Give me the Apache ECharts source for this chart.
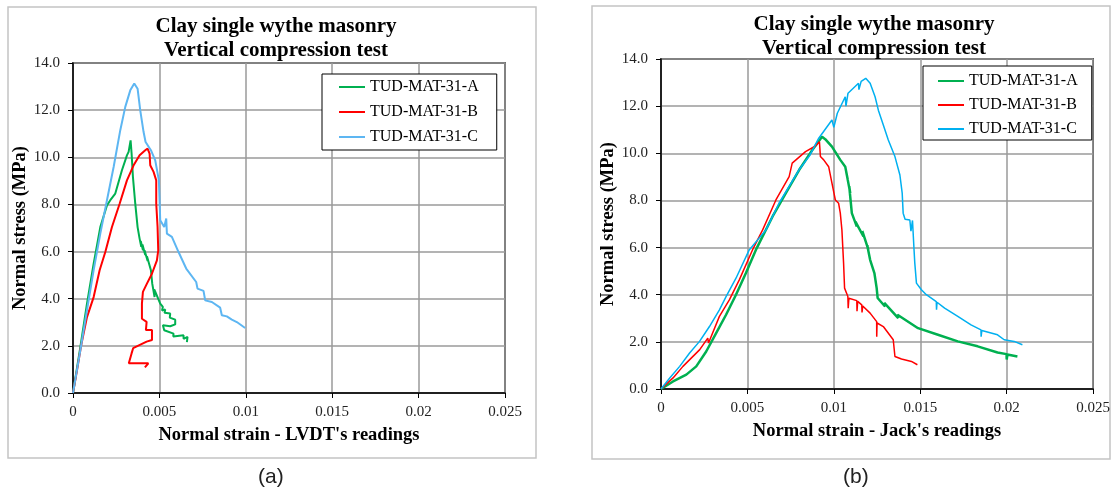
<!DOCTYPE html>
<html>
<head>
<meta charset="utf-8">
<script src="https://cdn.jsdelivr.net/npm/echarts@6/dist/echarts.min.js"></script>
<style>
  html, body { margin: 0; padding: 0; background: #fff; }
  #chart { width: 1113px; height: 491px; }
</style>
</head>
<body>
<div id="chart"></div>
<script>
// stress-strain curves [strain, stress MPa]
const seriesNames = ['TUD-MAT-31-A', 'TUD-MAT-31-B', 'TUD-MAT-31-C']

// (a) LVDT readings
const lvdtA = [
  [0, 0], [0.000424, 1.95], [0.000809, 3.79], [0.001195, 5.49], [0.00158, 7.04], [0.001965, 7.96],
  [0.002158, 8.18], [0.002447, 8.46], [0.002832, 9.45], [0.003121, 10.08], [0.003218, 10.23],
  [0.003333, 10.72], [0.003391, 10.16], [0.003468, 9.17], [0.003603, 8.03], [0.003738, 7.04],
  [0.003854, 6.55], [0.00395, 6.2], [0.00392, 6.45], [0.00405, 6.05], [0.00402, 6.3], [0.00418, 5.85],
  [0.00414, 6.05], [0.00432, 5.6], [0.00428, 5.8], [0.004509, 5.21], [0.004586, 4.64], [0.004721, 4.07],
  [0.0047, 4.4], [0.004759, 4.3], [0.005048, 3.79], [0.0052, 3.65], [0.00515, 3.5], [0.005337, 3.54],
  [0.0053, 3.4], [0.005626, 3.37], [0.0056, 3.2], [0.005915, 3.11], [0.005915, 2.91], [0.005626, 2.83],
  [0.005202, 2.87], [0.00528, 2.66], [0.005819, 2.52], [0.0058, 2.4], [0.006397, 2.45], [0.0064, 2.3],
  [0.006628, 2.38], [0.00659, 2.16]
]
const lvdtB = [
  [0, 0], [0.000231, 0.96], [0.000462, 1.98], [0.000809, 3.22], [0.001195, 4.07], [0.001541, 5.21],
  [0.001869, 5.98], [0.002254, 7.04], [0.002698, 8.03], [0.003121, 9.02], [0.003507, 9.66],
  [0.003854, 10.09], [0.004181, 10.3], [0.004316, 10.37], [0.004432, 10.16], [0.00447, 9.66],
  [0.004663, 9.38], [0.004817, 9.02], [0.004817, 8.03], [0.004894, 7.04], [0.004933, 6.05],
  [0.004856, 5.63], [0.004567, 5.06], [0.004278, 4.64], [0.004046, 4.29], [0.003989, 3.79],
  [0.003989, 3.15], [0.00426, 3.02], [0.00422, 2.67], [0.00457, 2.67], [0.00457, 2.25], [0.00426, 2.18],
  [0.00348, 1.9], [0.00339, 1.68], [0.00323, 1.26], [0.00436, 1.26], [0.00416, 1.09]
]
const lvdtC = [
  [0, 0], [0.000424, 1.81], [0.000809, 3.51], [0.001195, 5.21], [0.00158, 6.76], [0.001965, 8.18],
  [0.002351, 9.59], [0.002736, 11.15], [0.003025, 12.14], [0.003314, 12.84], [0.003545, 13.13],
  [0.003738, 12.91], [0.003892, 11.99], [0.004085, 11.07], [0.0042, 10.65], [0.004509, 10.3],
  [0.004759, 9.87], [0.004971, 9.02], [0.005048, 7.33], [0.00528, 7.04], [0.005395, 7.4],
  [0.005434, 6.76], [0.005723, 6.62], [0.006108, 5.98], [0.006551, 5.28], [0.007129, 4.71],
  [0.007206, 4.43], [0.007553, 4.33], [0.00765, 3.93], [0.008035, 3.86], [0.008516, 3.62],
  [0.008613, 3.3], [0.008902, 3.25], [0.009191, 3.11], [0.00948, 3.01], [0.009962, 2.76]
]

// (b) Jack readings
const jackA = [
  [0, 0], [0.000697, 0.32], [0.001465, 0.61], [0.00204, 0.96], [0.002615, 1.59], [0.00319, 2.37],
  [0.003764, 3.15], [0.004339, 4.0], [0.004914, 4.92], [0.005488, 5.9], [0.006456, 7.32],
  [0.007222, 8.31], [0.007989, 9.29], [0.008755, 10.14], [0.009317, 10.7], [0.0095, 10.6],
  [0.00989, 10.28], [0.010373, 9.72], [0.01066, 9.43], [0.0108, 8.9], [0.01072, 9.2], [0.010948, 8.31],
  [0.01089, 8.6], [0.01104, 7.46], [0.011328, 6.89], [0.01125, 7.1], [0.011712, 6.47], [0.01165, 6.7],
  [0.012, 5.9], [0.01193, 6.1], [0.012098, 5.48], [0.012345, 4.92], [0.012477, 4.28], [0.012534, 3.86],
  [0.01296, 3.5], [0.01292, 3.65], [0.013724, 3.01], [0.01368, 3.15], [0.014873, 2.58], [0.016022, 2.3],
  [0.017171, 2.02], [0.01832, 1.81], [0.01947, 1.55], [0.01999, 1.48], [0.02, 1.25], [0.02004, 1.46],
  [0.02062, 1.38]
]
const jackB = [
  [0, 0], [0.000697, 0.47], [0.00127, 0.96], [0.002241, 1.67], [0.002707, 2.16], [0.00275, 1.95],
  [0.003379, 3.08], [0.003954, 3.78], [0.004529, 4.63], [0.005293, 5.9], [0.005881, 6.75],
  [0.006648, 8.02], [0.007414, 9.01], [0.00759, 9.58], [0.00836, 10.07], [0.008937, 10.31],
  [0.009166, 10.49], [0.009223, 9.86], [0.009413, 9.72], [0.0097, 9.43], [0.00989, 8.73],
  [0.010086, 8.02], [0.010276, 7.88], [0.010373, 7.46], [0.010466, 6.75], [0.010563, 5.34],
  [0.01062, 4.28], [0.01081, 3.92], [0.01083, 3.43], [0.01087, 3.85], [0.011328, 3.75],
  [0.01134, 3.3], [0.01138, 3.72], [0.011615, 3.57], [0.01163, 3.25], [0.01167, 3.52],
  [0.012098, 3.22], [0.012477, 2.86], [0.01248, 2.22], [0.0125, 2.8], [0.012862, 2.65],
  [0.013436, 2.09], [0.013534, 1.38], [0.013913, 1.27], [0.014488, 1.17], [0.014833, 1.03]
]
const jackC = [
  [0, 0], [0.000506, 0.47], [0.00108, 0.96], [0.001655, 1.53], [0.00223, 2.02], [0.002804, 2.65],
  [0.003379, 3.36], [0.003764, 3.92], [0.004339, 4.7], [0.005103, 5.9], [0.006073, 6.75],
  [0.006827, 7.88], [0.007977, 9.29], [0.008602, 9.9], [0.009126, 10.64], [0.00989, 11.41],
  [0.01, 11.1], [0.0102, 11.7], [0.01066, 12.4], [0.0107, 12.0], [0.01082, 12.55], [0.011425, 12.97],
  [0.01145, 12.7], [0.01158, 13.05], [0.011845, 13.18], [0.0121, 12.97], [0.012385, 12.4],
  [0.012575, 11.83], [0.012862, 11.2], [0.01315, 10.56], [0.013534, 9.86], [0.013821, 9.08],
  [0.013954, 8.31], [0.01401, 7.46], [0.01412, 7.2], [0.014396, 7.17], [0.01446, 6.7],
  [0.01455, 7.15], [0.01464, 5.9], [0.014683, 5.34], [0.014778, 4.49], [0.015064, 4.21],
  [0.01535, 4.0], [0.015925, 3.71], [0.01594, 3.36], [0.01597, 3.68], [0.016408, 3.43],
  [0.017171, 3.08], [0.017936, 2.72], [0.018511, 2.51], [0.01852, 2.22], [0.01856, 2.48],
  [0.01947, 2.3], [0.019855, 2.09], [0.02043, 2.02], [0.020908, 1.88]
]

const serif = "'Liberation Serif', 'Times New Roman', serif"
const leftColors = ['#00B050', '#FF0000', '#5DB6F2']
const rightColors = ['#00B050', '#FF0000', '#00B0F0']

const chart = echarts.init(document.getElementById('chart'))

function xAxisOf(gridIndex, name) {
  return {
    gridIndex: gridIndex,
    type: 'value',
    min: 0,
    max: 0.025,
    interval: 0.005,
    name: name,
    nameLocation: 'middle',
    nameGap: 33,
    nameTextStyle: { fontFamily: serif, fontWeight: 'bold', fontSize: 18.5, color: '#000' },
    axisLine: { lineStyle: { color: '#000', width: 1.5 } },
    axisTick: { show: true, inside: false, length: 5, lineStyle: { color: '#000' } },
    axisLabel: {
      fontFamily: serif, fontSize: 15, color: '#222', margin: 12,
      formatter: v => String(+v.toFixed(3))
    },
    splitLine: { show: true, lineStyle: { color: '#9a9a9a', width: 1.5 } }
  }
}

function yAxisOf(gridIndex) {
  return {
    gridIndex: gridIndex,
    type: 'value',
    min: 0,
    max: 14,
    interval: 2,
    name: 'Normal stress (MPa)',
    nameLocation: 'middle',
    nameGap: 43,
    nameRotate: 90,
    nameTextStyle: { fontFamily: serif, fontWeight: 'bold', fontSize: 18.5, color: '#000' },
    axisLine: { show: true, lineStyle: { color: '#000', width: 1.5 } },
    axisTick: { show: true, inside: false, length: 5, lineStyle: { color: '#000' } },
    axisLabel: {
      fontFamily: serif, fontSize: 15, color: '#222', margin: 13,
      formatter: v => v.toFixed(1)
    },
    splitLine: { show: true, lineStyle: { color: '#9a9a9a', width: 1.5 } }
  }
}

function legendOf(left, top, colors, gap, padding) {
  return {
    left: left,
    top: top,
    orient: 'vertical',
    icon: 'rect',
    itemWidth: 26,
    itemHeight: 2,
    itemGap: gap,
    padding: padding,
    borderColor: '#000',
    borderWidth: 1,
    backgroundColor: '#fff',
    borderRadius: 0,
    selectedMode: false,
    textStyle: { fontFamily: serif, fontSize: 16, color: '#000' },
    data: seriesNames.map((n, i) => ({ name: n, itemStyle: { color: colors[i] } }))
  }
}

function lineSeries(name, data, idx, color, width) {
  return {
    name: name,
    type: 'line',
    xAxisIndex: idx,
    yAxisIndex: idx,
    data: data,
    showSymbol: false,
    symbol: 'none',
    animation: false,
    lineStyle: { color: color, width: width },
    itemStyle: { color: color }
  }
}

const titleText = 'Clay single wythe masonry\nVertical compression test'
const titleStyle = { fontFamily: serif, fontWeight: 'bold', fontSize: 21, lineHeight: 24, color: '#000' }

chart.setOption({
  backgroundColor: '#fff',
  title: [
    { text: titleText, left: 271, top: 10, textAlign: 'center', textStyle: titleStyle },
    { text: titleText, left: 869, top: 8, textAlign: 'center', textStyle: titleStyle }
  ],
  grid: [
    { left: 73, top: 63, width: 432, height: 330, show: true, borderColor: '#000', borderWidth: 1.5, backgroundColor: 'transparent' },
    { left: 661, top: 59, width: 435, height: 330, show: true, borderColor: '#000', borderWidth: 1.5, backgroundColor: 'transparent' }
  ],
  xAxis: [
    xAxisOf(0, "Normal strain - LVDT's readings"),
    xAxisOf(1, "Normal strain - Jack's readings")
  ],
  yAxis: [yAxisOf(0), yAxisOf(1)],
  legend: [
    legendOf(322, 74, leftColors, 9, [5, 18, 5, 17]),
    legendOf(923, 66, rightColors, 8, [7, 14, 3, 15])
  ],
  graphic: [
    { type: 'rect', shape: { x: 8, y: 7, width: 528, height: 451 }, style: { fill: null, stroke: '#c4c4c4', lineWidth: 1.5 }, z: -1 },
    { type: 'rect', shape: { x: 592, y: 6, width: 518, height: 453 }, style: { fill: null, stroke: '#c4c4c4', lineWidth: 1.5 }, z: -1 },
    { type: 'text', left: 258, top: 467, style: { text: '(a)', font: "21px 'Liberation Sans', Arial, sans-serif", fill: '#222' } },
    { type: 'text', left: 843, top: 467, style: { text: '(b)', font: "21px 'Liberation Sans', Arial, sans-serif", fill: '#222' } }
  ],
  series: [
    lineSeries(seriesNames[0], lvdtA, 0, leftColors[0], 2),
    lineSeries(seriesNames[1], lvdtB, 0, leftColors[1], 2),
    lineSeries(seriesNames[2], lvdtC, 0, leftColors[2], 2),
    lineSeries(seriesNames[0], jackA, 1, rightColors[0], 2.5),
    lineSeries(seriesNames[1], jackB, 1, rightColors[1], 1.5),
    lineSeries(seriesNames[2], jackC, 1, rightColors[2], 1.5)
  ]
})
</script>
</body>
</html>
